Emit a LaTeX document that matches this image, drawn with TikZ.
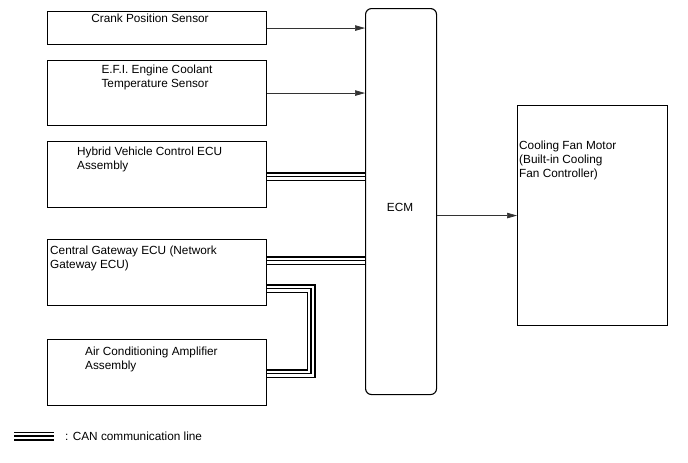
\documentclass[tikz,border=0pt]{standalone}
\usepackage{fontspec}
\setmainfont{Liberation Sans}
\usetikzlibrary{arrows.meta}
\begin{document}
\begin{tikzpicture}[x=1pt,y=-1pt,
  box/.style={draw,line width=1.1pt,minimum width=219pt,inner sep=0pt,anchor=north west},
  txt/.style={font=\fontsize{11.8}{14}\selectfont,inner sep=0pt,align=left},
  sig/.style={line width=0.7pt,draw=black!80,-{Triangle[length=10pt,width=5.5pt]}},
  canA/.style={line width=9pt,line join=miter},
  canB/.style={line width=6pt,white,line join=miter},
  canC/.style={line width=1.6pt,line join=miter}]
\useasboundingbox (0,0) rectangle (688,463);
% boxes
\node[box,minimum height=33pt] (crank) at (47,11) {};
\node[box,minimum height=65pt] (efi) at (47,60) {};
\node[box,minimum height=66pt] (hv) at (47,141) {};
\node[box,minimum height=66pt] (gw) at (47,239) {};
\node[box,minimum height=66pt] (ac) at (47,339) {};
\node[draw,line width=1.1pt,rounded corners=6pt,minimum width=71pt,minimum height=386pt,inner sep=0pt,anchor=north west] (ecm) at (365,8) {};
\node[draw,line width=1.1pt,minimum width=150pt,minimum height=220pt,inner sep=0pt,anchor=north west] (fan) at (517,105) {};
% texts
\node[txt,anchor=north] (t1) at (150,14) {Crank Position Sensor};
\node[txt,anchor=north,align=left] (t2) at (157,65) {E.F.I. Engine Coolant\\Temperature Sensor};
\node[txt,anchor=north west] (t3) at (77,146.5) {Hybrid Vehicle Control ECU\\Assembly};
\node[txt,anchor=north west] (t4) at (50,245.5) {Central Gateway ECU (Network\\Gateway ECU)};
\node[txt,anchor=north west] (t5) at (85,346.5) {Air Conditioning Amplifier\\Assembly};
\node[txt] (t6) at (400,207) {ECM};
\node[txt,anchor=north west] (t7) at (519,140.5) {Cooling Fan Motor\\(Built-in Cooling\\Fan Controller)};
% signal arrows
\draw[sig] (crank.east) -- (crank.east -| ecm.west);
\draw[sig] (efi.east) -- (efi.east -| ecm.west);
\draw[sig] (ecm.east |- fan.west) -- (fan.west);
% CAN lines
\coordinate (h1) at ([yshift=-2pt]hv.east);
\coordinate (g1) at ([yshift=12pt]gw.east);
\coordinate (g2) at ([yshift=-16pt]gw.east);
\coordinate (a2) at ([yshift=-1pt]ac.east);
\foreach \s in {canA,canB,canC}{
  \draw[\s] (h1) -- (h1 -| ecm.west);
  \draw[\s] (g1) -- (g1 -| ecm.west);
  \draw[\s] (g2) -- ++(44,0) |- (a2);
}
% legend
\coordinate (l1) at (14,436);
\coordinate (l2) at (54,436);
\foreach \s in {canA,canB,canC}{\draw[\s] (l1) -- (l2);}
\node[txt,anchor=west] (lt) at (65,436) {: CAN communication line};
\end{tikzpicture}
\end{document}
